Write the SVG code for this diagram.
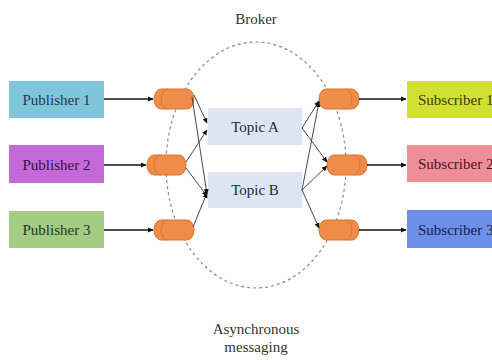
<svg xmlns="http://www.w3.org/2000/svg" width="492" height="360" viewBox="0 0 492 360">
<defs>
<marker id="ah" markerWidth="6" markerHeight="6" refX="5" refY="3" orient="auto" markerUnits="userSpaceOnUse">
<path d="M0,0.5 L5.5,3 L0,5.5 Z" fill="#111"/>
</marker>
</defs>
<style>
text{font-family:"Liberation Serif","DejaVu Serif",serif;font-size:15px;text-anchor:middle}
.cyl{fill:#f08c48;stroke:#d27638;stroke-width:1}
.cap{fill:none;stroke:#d27638;stroke-width:1}
.conn line{stroke:#222;stroke-width:1}
.main line{stroke:#111;stroke-width:1.6}
.fan line{stroke:#333;stroke-width:0.9}
</style>
<rect width="492" height="360" fill="#fff"/>
<text x="256" y="24" fill="#333">Broker</text>
<ellipse cx="256" cy="165" rx="90" ry="123" fill="none" stroke="#8a8a8a" stroke-width="1.2" stroke-dasharray="3,3"/>
<text x="256" y="334" fill="#333">Asynchronous</text>
<text x="256" y="352" fill="#333">messaging</text>

<g id="pub1"><rect x="9" y="81" width="95" height="37" fill="#7fc6dc"/><text x="56.5" y="105" fill="#1f3a48">Publisher 1</text></g>
<g id="pub2"><rect x="9" y="145" width="95" height="38" fill="#c46ad8"/><text x="56.5" y="169.5" fill="#3a1042">Publisher 2</text></g>
<g id="pub3"><rect x="9" y="211" width="95" height="37" fill="#a4cc84"/><text x="56.5" y="235" fill="#223a1e">Publisher 3</text></g>

<g id="sub1"><rect x="407" y="81" width="100" height="37" fill="#d2e033"/><text x="418" y="105" fill="#3a3a10" style="text-anchor:start">Subscriber 1</text></g>
<g id="sub2"><rect x="407" y="145" width="100" height="37" fill="#ee8f98"/><text x="418" y="169" fill="#4a1418" style="text-anchor:start">Subscriber 2</text></g>
<g id="sub3"><rect x="407" y="210" width="100" height="38" fill="#6e8fe8"/><text x="418" y="234.5" fill="#14224a" style="text-anchor:start">Subscriber 3</text></g>

<g id="topicA"><rect x="208" y="108" width="94" height="37" fill="#dde4f2"/><text x="255" y="131.5" fill="#2a2a2a">Topic A</text></g>
<g id="topicB"><rect x="208" y="172" width="94" height="36" fill="#dde4f2"/><text x="255" y="195" fill="#2a2a2a">Topic B</text></g>

<g id="qL1"><path class="cyl" d="M161,89 H187 A7,10 0 0 1 187,109 H161 A7,10 0 0 1 161,89 Z"/><path class="cap" d="M168,89 A7,10 0 0 0 168,109"/></g>
<g id="qL2"><path class="cyl" d="M154,155 H179 A7,10 0 0 1 179,175 H154 A7,10 0 0 1 154,155 Z"/><path class="cap" d="M161,155 A7,10 0 0 0 161,175"/></g>
<g id="qL3"><path class="cyl" d="M161,220 H187 A7,10 0 0 1 187,240 H161 A7,10 0 0 1 161,220 Z"/><path class="cap" d="M168,220 A7,10 0 0 0 168,240"/></g>

<g id="qR1"><path class="cyl" d="M326,89 H352 A7,10 0 0 1 352,109 H326 A7,10 0 0 1 326,89 Z"/><path class="cap" d="M345,89 A7,10 0 0 1 345,109"/></g>
<g id="qR2"><path class="cyl" d="M334,155 H360 A7,10 0 0 1 360,175 H334 A7,10 0 0 1 334,155 Z"/><path class="cap" d="M353,155 A7,10 0 0 1 353,175"/></g>
<g id="qR3"><path class="cyl" d="M326,220 H352 A7,10 0 0 1 352,240 H326 A7,10 0 0 1 326,220 Z"/><path class="cap" d="M345,220 A7,10 0 0 1 345,240"/></g>

<g id="connectors" class="conn">
<g class="main">
<line x1="104" y1="99" x2="153" y2="99" marker-end="url(#ah)"/>
<line x1="104" y1="165" x2="146" y2="165" marker-end="url(#ah)"/>
<line x1="104" y1="230" x2="153" y2="230" marker-end="url(#ah)"/>
<line x1="359" y1="99" x2="406" y2="99" marker-end="url(#ah)"/>
<line x1="367" y1="165" x2="406" y2="165" marker-end="url(#ah)"/>
<line x1="359" y1="230" x2="406" y2="230" marker-end="url(#ah)"/>
</g>
<g class="fan">
<line x1="194" y1="95" x2="207" y2="123" marker-end="url(#ah)"/>
<line x1="192" y1="97" x2="207" y2="194" marker-end="url(#ah)"/>
<line x1="186" y1="162" x2="207" y2="130" marker-end="url(#ah)"/>
<line x1="186" y1="168" x2="207" y2="196" marker-end="url(#ah)"/>
<line x1="193" y1="227" x2="207" y2="193" marker-end="url(#ah)"/>
<line x1="302" y1="128" x2="319" y2="101" marker-end="url(#ah)"/>
<line x1="302" y1="128" x2="327" y2="162" marker-end="url(#ah)"/>
<line x1="302" y1="190" x2="319" y2="102" marker-end="url(#ah)"/>
<line x1="302" y1="190" x2="327" y2="166" marker-end="url(#ah)"/>
<line x1="302" y1="190" x2="319" y2="228" marker-end="url(#ah)"/>
</g>
</g>
</svg>
